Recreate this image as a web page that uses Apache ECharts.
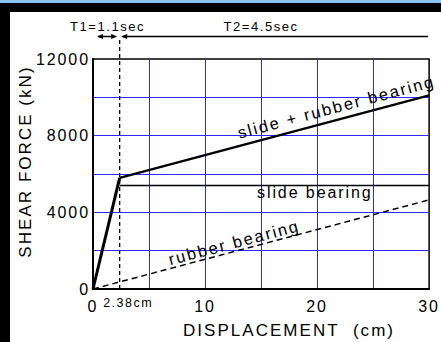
<!DOCTYPE html>
<html><head><meta charset="utf-8">
<script src="https://cdn.jsdelivr.net/npm/echarts@6/dist/echarts.min.js"></script>
<style>
html,body{margin:0;padding:0;background:#fff;overflow:hidden;}
#c{width:441px;height:342px;}
#c text{letter-spacing:0.12em;}
</style></head><body><div id="c"></div>
<script>
// ---- data ----
const xTickLabels = [0, 10, 20, 30];
const yTickLabels = [0, 4000, 8000, 12000];
const elastic = [[0, 0], [2.38, 5800]];
const slideRubber = [[2.38, 5800], [30, 10100]];
const slide = [[2.38, 5400], [30, 5400]];
const rubber = [[0, 0], [30, 4650]];
const yieldDisp = 2.38;
const yieldLabel = '2.38cm';
const t1Label = 'T1=1.1sec';
const t2Label = 'T2=4.5sec';
const lblSlideRubber = 'slide + rubber bearing';
const lblSlide = 'slide bearing';
const lblRubber = 'rubber bearing';
const xTitle = 'DISPLACEMENT  (cm)';
const yTitle = 'SHEAR FORCE (kN)';

const FF = "'Liberation Sans', Arial, sans-serif";
const GRID_BLUE = '#2a2aff';
const chart = echarts.init(document.getElementById('c'), null, {renderer: 'svg'});

const lineS = (data, width, type, z) => ({
  type: 'line', data, symbol: 'none', silent: true, z: z || 3, clip: false,
  lineStyle: {color: '#000', width, type: type || 'solid'}
});

chart.setOption({
  animation: false,
  backgroundColor: '#fff',
  grid: {left: 93, top: 59, right: 3, bottom: 53, show: true, borderColor: '#000', borderWidth: 1.5, backgroundColor: '#fff'},
  xAxis: {
    type: 'value', min: 0, max: 30, interval: 5,
    axisLine: {show: true, lineStyle: {color: '#000', width: 2}},
    axisTick: {show: false},
    splitLine: {show: true, showMinLine: false, showMaxLine: false, lineStyle: {color: GRID_BLUE, width: 1, opacity: 1}},
    axisLabel: {margin: 9, fontSize: 16, color: '#000', fontFamily: FF,
      formatter: v => xTickLabels.includes(v) ? String(v) : ''}
  },
  yAxis: {
    type: 'value', min: 0, max: 12000, interval: 2000,
    axisLine: {show: true, lineStyle: {color: '#000', width: 2}},
    axisTick: {show: false},
    splitLine: {show: true, showMinLine: false, showMaxLine: false, lineStyle: {color: GRID_BLUE, width: 1, opacity: 1}},
    axisLabel: {margin: 3, fontSize: 16, color: '#000', fontFamily: FF, padding: [4, 0, 0, 0],
      formatter: v => yTickLabels.includes(v) ? String(v) : ''}
  },
  series: [
    lineS(elastic, 3),
    lineS(slideRubber, 2.4),
    lineS(slide, 1.5),
    lineS(rubber, 1.5, [6, 4]),
    lineS([[yieldDisp, 0], [yieldDisp, 13150]], 1.3, [4, 3], 4)
  ]
});

const px = (x, y) => chart.convertToPixel({gridIndex: 0}, [x, y]);
const interp = (pts, x) => pts[0][1] + (pts[1][1] - pts[0][1]) * (x - pts[0][0]) / (pts[1][0] - pts[0][0]);

function alongLabel(text, pts, xAt, offset, size) {
  const a = px(pts[0][0], pts[0][1]), b = px(pts[1][0], pts[1][1]);
  const ang = Math.atan2(a[1] - b[1], b[0] - a[0]);
  const p = px(xAt, interp(pts, xAt));
  return {type: 'text', x: p[0], y: p[1], rotation: ang, z: 20,
    style: {text, x: 0, y: -offset, align: 'center', verticalAlign: 'bottom',
      fontSize: size, fontFamily: FF, fill: '#000'}};
}

const o0 = px(0, 0), oY = px(yieldDisp, 0), o30 = px(30, 0), gTop = px(0, 12000);
const yA = gTop[1] - 22.5;
const head = (x, dir) => ({type: 'polygon', z: 20,
  shape: {points: [[x, yA], [x + dir * 6, yA - 2.6], [x + dir * 6, yA + 2.6]]}, style: {fill: '#000'}});
const hline = (x1, x2) => ({type: 'line', z: 20, shape: {x1, y1: yA, x2, y2: yA}, style: {stroke: '#000', lineWidth: 1.5}});

const sP = px(19.8, slide[0][1]);
chart.setOption({graphic: [
  {type: 'rect', z: -10, shape: {x: 0, y: 0, width: 441, height: 3}, style: {fill: '#8cc4f4'}},
  {type: 'rect', z: -10, shape: {x: 0, y: 3, width: 441, height: 9}, style: {fill: '#000'}},
  {type: 'rect', z: -10, shape: {x: 0, y: 3, width: 10, height: 339}, style: {fill: '#000'}},
  hline(o0[0] + 5, oY[0] - 4), head(o0[0] + 4, 1), head(oY[0] - 2.5, -1),
  hline(oY[0] + 3, o30[0] - 1), head(oY[0] + 1.5, 1),
  {type: 'text', z: 20, x: px(1.3, 0)[0], y: 26.5, style: {text: t1Label, align: 'center', verticalAlign: 'middle', fontSize: 13, fontFamily: FF, fill: '#000'}},
  {type: 'text', z: 20, x: px(15.0, 0)[0], y: 26.5, style: {text: t2Label, align: 'center', verticalAlign: 'middle', fontSize: 13, fontFamily: FF, fill: '#000'}},
  {type: 'text', z: 20, x: oY[0] + 8.5, y: o0[1] + 14, style: {text: yieldLabel, align: 'center', verticalAlign: 'middle', fontSize: 12.5, fontFamily: FF, fill: '#000'}},
  alongLabel(lblSlideRubber, slideRubber, 22.0, 4.5, 16.5),
  alongLabel(lblRubber, rubber, 12.8, 0.5, 16.5),
  {type: 'text', z: 20, x: sP[0], y: sP[1] + 7, style: {text: lblSlide, align: 'center', verticalAlign: 'middle', fontSize: 16, fontFamily: FF, fill: '#000'}},
  {type: 'text', z: 20, x: 289, y: 330, style: {text: xTitle, align: 'center', verticalAlign: 'middle', fontSize: 17, fontFamily: FF, fill: '#000'}},
  {type: 'text', z: 20, x: 25, y: 161.5, rotation: Math.PI / 2, style: {text: yTitle, align: 'center', verticalAlign: 'middle', fontSize: 17, fontFamily: FF, fill: '#000'}}
]});
</script></body></html>
